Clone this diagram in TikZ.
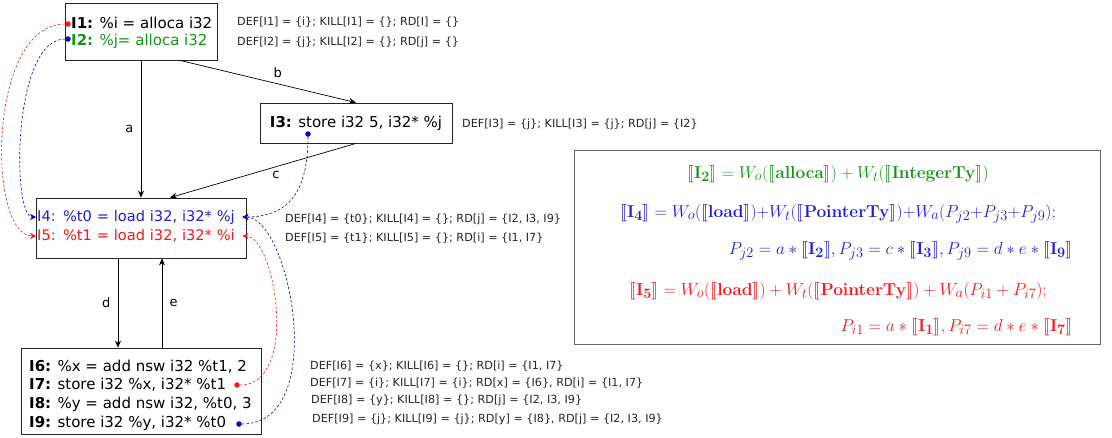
\documentclass[tikz,border=0pt]{standalone}
\usepackage[no-math]{fontspec}
\setmainfont{DejaVu Sans}
\usepackage{amsmath}
\usepackage{stmaryrd}
\usepackage{xcolor}
\usetikzlibrary{positioning,calc,arrows.meta}

\definecolor{igreen}{RGB}{20,150,20}
\definecolor{iblue}{RGB}{30,30,220}
\definecolor{ired}{RGB}{255,20,20}
\definecolor{dblue}{RGB}{0,0,200}

\tikzset{
  blk/.style={draw=black!85, line width=0.8pt, inner sep=0pt},
  txt/.style={font=\fontsize{15}{18}\selectfont, inner sep=1pt, anchor=west},
  txtm/.style={font=\fontsize{14.6}{17}\selectfont, inner sep=1pt, anchor=west, text width=204, align=left},
  note/.style={font=\fontsize{11.2}{13}\selectfont, text=black!85, inner sep=0pt, anchor=west},
  flow/.style={line width=0.7pt, -{Stealth[length=7pt,width=6pt]}},
  lbl/.style={font=\fontsize{13}{15}\selectfont},
  dep/.style={line width=0.6pt, dash pattern=on 2.5pt off 2pt, -{Stealth[length=6pt,width=6pt]}},
  usedot/.style={circle, fill, inner sep=0pt, minimum size=5.5pt},
  eqn/.style={font=\fontsize{19}{21}\selectfont, inner sep=0pt},
}

\begin{document}
\begin{tikzpicture}[x=1pt,y=-1pt]
\useasboundingbox (0,0) rectangle (1112,437);

% blocks
\node[blk, minimum width=152, minimum height=57] (b1) at (141,31.5) {};
\node[blk, minimum width=192, minimum height=40, font=\fontsize{15}{18}\selectfont] (b3) at (356,123) {\textbf{I3:} store i32 5, i32* \%j};
\node[blk, minimum width=210, minimum height=60] (b4) at (141,228) {};
\node[blk, minimum width=240, minimum height=86] (b6) at (141,391) {};

% instructions
\node[txt] (i1) at (70,23) {\textbf{I1:} \%i = alloca i32};
\node[txt, text=igreen] (i2) at (70,41) {\textbf{I2:} \%j= alloca i32};
\node[txtm, text=iblue] (i4) at (36,217) {I4: \%t0 = load i32, i32* \%j};
\node[txtm, text=ired] (i5) at (36,236) {I5: \%t1 = load i32, i32* \%i};
\node[txt] (i6) at (28,367) {\textbf{I6:} \%x = add nsw i32 \%t1, 2};
\node[txt] (i7) at (28,385) {\textbf{I7:} store i32 \%x, i32* \%t1};
\node[txt] (i8) at (28,404) {\textbf{I8:} \%y = add nsw i32, \%t0, 3};
\node[txt] (i9) at (28,423) {\textbf{I9:} store i32 \%y, i32* \%t0};

% def / kill / rd
\node[note] (n1) at (237,22) {DEF[I1] = \{i\}; KILL[I1] = \{\}; RD[I] = \{\}};
\node[note] (n2) at (237,42) {DEF[I2] = \{j\}; KILL[I2] = \{\}; RD[j] = \{\}};
\node[note] (n3) at (462,124) {DEF[I3] = \{j\}; KILL[I3] = \{j\}; RD[j] = \{I2\}};
\node[note] (n4) at (285,219) {DEF[I4] = \{t0\}; KILL[I4] = \{\}; RD[j] = \{I2, I3, I9\}};
\node[note] (n5) at (285,238) {DEF[I5] = \{t1\}; KILL[I5] = \{\}; RD[i] = \{I1, I7\}};
\node[note] (n6) at (310,366) {DEF[I6] = \{x\}; KILL[I6] = \{\}; RD[i] = \{I1, I7\}};
\node[note] (n7) at (310,383) {DEF[I7] = \{i\}; KILL[I7] = \{i\}; RD[x] = \{I6\}, RD[i] = \{I1, I7\}};
\node[note] (n8) at (311,400) {DEF[I8] = \{y\}; KILL[I8] = \{\}; RD[j] = \{I2, I3, I9\}};
\node[note] (n9) at (312,419) {DEF[I9] = \{j\}; KILL[I9] = \{j\}; RD[y] = \{I8\}, RD[j] = \{I2, I3, I9\}};

% control flow
\draw[flow] (b1.south) -- node[lbl, left=4pt] {a} (b4.north);
\draw[flow] ([xshift=39pt]b1.south) -- node[lbl, above right=0pt and 2pt] {b} (b3.north);
\draw[flow] (b3.south) -- node[lbl, below=1pt, pos=0.43] {c} ([xshift=29pt]b4.north);
\draw[flow] ([xshift=-23pt]b4.south) -- node[lbl, left=4pt] {d} ([xshift=-23pt]b6.north);
\draw[flow] ([xshift=21pt]b6.north) -- node[lbl, right=4pt] {e} ([xshift=21pt]b4.south);

% reaching definitions
\node[usedot, ired] (o1) at (68,24) {};
\node[usedot, dblue] (o2) at (68,39) {};
\node[usedot, dblue] (o3) at (308,134) {};
\node[usedot, ired] (o7) at (237,385) {};
\node[usedot, dblue] (o9) at (239,424) {};
\draw[dep, ired] (o1) .. controls (-13,24) and (-13,236) .. (i5.west);
\draw[dep, dblue] (o2) .. controls (12,39) and (12,217) .. (i4.west);
\draw[dep, dblue] (o3) .. controls (308,190) and (290,217) .. (i4.east);
\draw[dep, ired] (o7) .. controls (300,385) and (275,236) .. (i5.east);
\draw[dep, dblue] (o9) .. controls (330,424) and (290,217) .. (i4.east);

% weights
\node[draw=black!60, line width=0.7pt, minimum width=526, minimum height=194] (fb) at (837,247) {};
\node[eqn, text=igreen] (f1) at (838,174) {$\llbracket \mathbf{I_2} \rrbracket = W_o(\llbracket \mathbf{alloca} \rrbracket) + W_t(\llbracket \mathbf{IntegerTy} \rrbracket)$};
\node[eqn, text=iblue] (f2) at (838,214) {$\llbracket \mathbf{I_4} \rrbracket = W_o(\llbracket \mathbf{load} \rrbracket){+}W_t(\llbracket \mathbf{PointerTy} \rrbracket){+}W_a(P_{j2}{+}P_{j3}{+}P_{j9});$};
\node[eqn, text=iblue, anchor=east] (f3) at (1073,251) {$P_{j2} = a * \llbracket \mathbf{I_2} \rrbracket, P_{j3} = c * \llbracket \mathbf{I_3} \rrbracket, P_{j9} = d * e * \llbracket \mathbf{I_9} \rrbracket$};
\node[eqn, text=ired] (f4) at (838,291) {$\llbracket \mathbf{I_5} \rrbracket = W_o(\llbracket \mathbf{load} \rrbracket) + W_t(\llbracket \mathbf{PointerTy} \rrbracket) + W_a(P_{i1} + P_{i7});$};
\node[eqn, text=ired, anchor=east] (f5) at (1073,327) {$P_{i1} = a * \llbracket \mathbf{I_1} \rrbracket, P_{i7} = d * e * \llbracket \mathbf{I_7} \rrbracket$};
\end{tikzpicture}
\end{document}
